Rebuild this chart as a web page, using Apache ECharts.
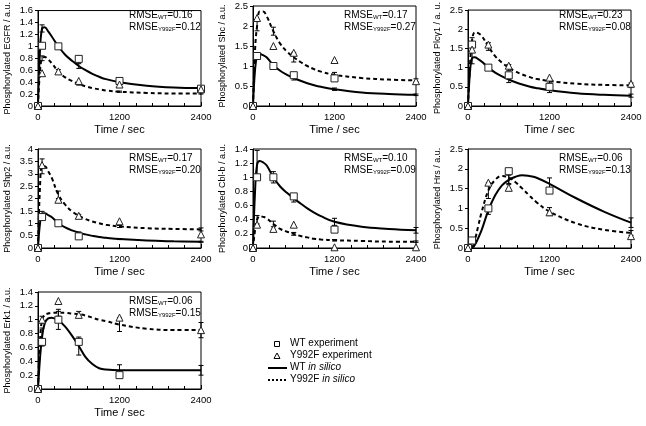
<!DOCTYPE html>
<html>
<head>
<meta charset="utf-8">
<script src="https://cdn.jsdelivr.net/npm/echarts@6/dist/echarts.min.js"></script>
<style>
  html, body { margin: 0; padding: 0; background: #fff; }
  #main { width: 646px; height: 426px; }
</style>
</head>
<body>
<div id="main"></div>
<script>
// 时间点
const simT = [0, 30, 60, 100, 150, 200, 300, 400, 500, 600, 700, 800, 900, 1000, 1200, 1600, 2000, 2400];
const expT = [0, 60, 300, 600, 1200, 2400];
const errT = [60, 300, 600, 1200, 2400];

const proteins = ['EGFR', 'Shc', 'Plcγ1', 'Shp2', 'Cbl-b', 'Hrs', 'Erk1'];
const yNames = ['Phosphorylated EGFR / a.u.', 'Phosphorylated Shc / a.u.', 'Phosphorylated Plcγ1 / a. u.',
  'Phosphorylated Shp2 / a.u.', 'Phosphorylated Cbl-b / a.u.', 'Phosphorylated Hrs / a.u.', 'Phosphorylated Erk1 / a.u.'];
const yMax = [1.6, 2.5, 2.5, 4, 1.4, 2.5, 1.4];
const yStep = [0.2, 0.5, 0.5, 0.5, 0.2, 0.5, 0.2];
const rmseWT = ['0.16', '0.17', '0.23', '0.17', '0.10', '0.06', '0.06'];
const rmseY = ['0.12', '0.27', '0.08', '0.20', '0.09', '0.13', '0.15'];
const legendNames = ['WT experiment', 'Y992F experiment', 'WT in silico', 'Y992F in silico'];

// 实验数据 (WT / Y992F)
const egfrWTExp = [0, 1.01, 1.0, 0.79, 0.42, 0.29];
const egfrYExp = [0, 0.55, 0.58, 0.42, 0.36, 0.28];
const shcWTExp = [0, 1.25, 1.0, 0.77, 0.69, null];
const shcYExp = [0, 2.2, 1.5, 1.33, 1.15, 0.62];
const plcWTExp = [0, 1.6, 1.0, 0.8, 0.5, null];
const plcYExp = [0, 1.47, 1.6, 1.05, 0.74, 0.58];
const shp2WTExp = [0, 1.25, 1.0, 0.47, null, null];
const shp2YExp = [0, 3.35, 1.95, 1.3, 1.08, 0.55];
const cblWTExp = [0, 1.0, 1.0, 0.73, 0.26, null];
const cblYExp = [0, 0.33, 0.27, 0.33, 0.01, 0.01];
const hrsWTExp = [0, 0.19, 1.0, 1.94, 1.45, null];
const hrsYExp = [0, null, 1.65, 1.52, 0.9, 0.3];
const erkWTExp = [0, 0.68, 1.0, 0.68, 0.2, null];
const erkYExp = [0, 1.0, 1.27, 1.07, 1.03, 0.85];

// 模拟曲线 (in silico)
const egfrWTSim = [0, 0.95, 1.30, 1.32, 1.25, 1.17, 1.00, 0.86, 0.76, 0.67, 0.60, 0.54, 0.49, 0.45, 0.40, 0.34, 0.31, 0.30];
const egfrYSim = [0, 0.60, 0.80, 0.82, 0.78, 0.72, 0.58, 0.48, 0.42, 0.37, 0.33, 0.30, 0.28, 0.26, 0.24, 0.22, 0.21, 0.21];
const shcWTSim = [0, 0.90, 1.25, 1.30, 1.27, 1.22, 1.02, 0.88, 0.78, 0.70, 0.63, 0.57, 0.52, 0.48, 0.42, 0.34, 0.30, 0.28];
const shcYSim = [0, 1.40, 2.00, 2.36, 2.36, 2.25, 1.87, 1.56, 1.36, 1.22, 1.10, 1.00, 0.92, 0.86, 0.78, 0.70, 0.66, 0.64];
const plcWTSim = [0, 0.90, 1.25, 1.27, 1.22, 1.16, 1.00, 0.87, 0.77, 0.69, 0.62, 0.56, 0.51, 0.47, 0.41, 0.33, 0.29, 0.27];
const plcYSim = [0, 1.10, 1.70, 1.92, 1.90, 1.83, 1.55, 1.30, 1.13, 1.00, 0.90, 0.82, 0.76, 0.71, 0.65, 0.58, 0.55, 0.54];
const shp2WTSim = [0, 1.00, 1.38, 1.40, 1.33, 1.25, 1.00, 0.83, 0.71, 0.62, 0.55, 0.49, 0.44, 0.41, 0.36, 0.30, 0.27, 0.25];
const shp2YSim = [0, 2.50, 3.30, 3.30, 3.10, 2.85, 2.15, 1.75, 1.48, 1.30, 1.17, 1.07, 1.00, 0.94, 0.87, 0.80, 0.77, 0.75];
const cblWTSim = [0, 0.80, 1.18, 1.23, 1.21, 1.17, 1.00, 0.87, 0.78, 0.70, 0.63, 0.56, 0.50, 0.45, 0.37, 0.30, 0.27, 0.25];
const cblYSim = [0, 0.25, 0.40, 0.45, 0.44, 0.42, 0.34, 0.27, 0.23, 0.20, 0.17, 0.15, 0.13, 0.12, 0.11, 0.10, 0.09, 0.09];
const hrsWTSim = [0, 0, 0.02, 0.08, 0.25, 0.45, 0.95, 1.33, 1.58, 1.72, 1.80, 1.84, 1.82, 1.78, 1.62, 1.25, 0.92, 0.64];
const hrsYSim = [0, 0, 0.05, 0.20, 0.55, 0.90, 1.45, 1.72, 1.82, 1.78, 1.66, 1.50, 1.33, 1.17, 0.92, 0.62, 0.46, 0.38];
const erkWTSim = [0, 0.45, 0.75, 0.95, 1.02, 1.03, 0.99, 0.90, 0.77, 0.62, 0.46, 0.36, 0.30, 0.28, 0.27, 0.27, 0.27, 0.27];
const erkYSim = [0, 0.70, 1.00, 1.07, 1.09, 1.10, 1.10, 1.10, 1.09, 1.08, 1.06, 1.03, 1.00, 0.98, 0.93, 0.87, 0.85, 0.85];

// 误差棒半宽
const egfrWTErr = [0.06, 0.02, 0.04, 0.03, 0.03];
const egfrYErr = [0.04, 0.03, 0.02, 0.01, 0.01];
const shcWTErr = [0.08, 0.03, 0.05, 0.03, 0.02];
const shcYErr = [0.12, 0.10, 0.12, 0.06, 0.04];
const plcWTErr = [0.15, 0.06, 0.08, 0.06, 0.04];
const plcYErr = [0.08, 0.10, 0.08, 0.05, 0.06];
const shp2WTErr = [0.10, 0.03, 0.03, 0.02, 0.02];
const shp2YErr = [0.30, 0.15, 0.06, 0.04, 0.06];
const cblWTErr = [0.20, 0.08, 0.05, 0.05, 0.04];
const cblYErr = [0.06, 0.04, 0.02, 0.01, 0.01];
const hrsWTErr = [0.02, 0.10, 0.12, 0.15, 0.12];
const hrsYErr = [0.02, 0.20, 0.15, 0.10, 0.06];
const erkWTErr = [0.13, 0.13, 0.13, 0.08, 0.07];
const erkYErr = [0.05, 0.05, 0.04, 0.10, 0.11];

const wtExp = [egfrWTExp, shcWTExp, plcWTExp, shp2WTExp, cblWTExp, hrsWTExp, erkWTExp];
const yExp = [egfrYExp, shcYExp, plcYExp, shp2YExp, cblYExp, hrsYExp, erkYExp];
const wtSim = [egfrWTSim, shcWTSim, plcWTSim, shp2WTSim, cblWTSim, hrsWTSim, erkWTSim];
const ySim = [egfrYSim, shcYSim, plcYSim, shp2YSim, cblYSim, hrsYSim, erkYSim];
const wtErr = [egfrWTErr, shcWTErr, plcWTErr, shp2WTErr, cblWTErr, hrsWTErr, erkWTErr];
const yErr = [egfrYErr, shcYErr, plcYErr, shp2YErr, cblYErr, hrsYErr, erkYErr];

const FONT = '"Liberation Sans", Arial, sans-serif';
const colLeft = [38, 253, 468];
const rowTop = [6, 149, 292];
const rowH = [100, 99, 97];
const gridW = 163;

const myChart = echarts.init(document.getElementById('main'));

function pts(ts, vals) {
  return ts.map((t, i) => [t, vals[i]]).filter(p => p[1] !== null);
}
function errData(sim, half) {
  return errT.map((t, k) => {
    const c = sim[simT.indexOf(t)];
    return [t, c - half[k], c + half[k]];
  });
}
function renderErr(params, api) {
  const x = api.value(0);
  const lo = api.coord([x, api.value(1)]);
  const hi = api.coord([x, api.value(2)]);
  const w = 2.5;
  const st = { stroke: '#000', lineWidth: 1 };
  return {
    type: 'group',
    children: [
      { type: 'line', shape: { x1: lo[0], y1: lo[1], x2: hi[0], y2: hi[1] }, style: st },
      { type: 'line', shape: { x1: lo[0] - w, y1: lo[1], x2: lo[0] + w, y2: lo[1] }, style: st },
      { type: 'line', shape: { x1: hi[0] - w, y1: hi[1], x2: hi[0] + w, y2: hi[1] }, style: st }
    ]
  };
}

const grid = [], xAxis = [], yAxis = [], series = [], graphic = [];

proteins.forEach((p, i) => {
  const r = Math.floor(i / 3), c = i % 3;
  grid.push({
    left: colLeft[c], top: rowTop[r], width: gridW, height: rowH[r],
    show: true, borderColor: '#000', borderWidth: 1, backgroundColor: '#fff'
  });
  xAxis.push({
    gridIndex: i, type: 'value', min: 0, max: 2400, interval: 1200,
    name: 'Time / sec', nameLocation: 'middle', nameGap: 18,
    nameTextStyle: { fontFamily: FONT, fontSize: 11, color: '#000' },
    axisLine: { lineStyle: { color: '#000', width: 1 } },
    axisTick: { inside: true, length: 4, lineStyle: { color: '#000' } },
    minorTick: { show: true, splitNumber: 5, length: 3, lineStyle: { color: '#000' } },
    axisLabel: { fontFamily: FONT, fontSize: 9.5, color: '#000', margin: 6, formatter: v => String(v) },
    splitLine: { show: false }
  });
  yAxis.push({
    gridIndex: i, type: 'value', min: 0, max: yMax[i], interval: yStep[i],
    name: yNames[i], nameLocation: 'middle', nameGap: 26, nameRotate: 90,
    nameTextStyle: { fontFamily: FONT, fontSize: 9, color: '#000' },
    axisLine: { show: true, lineStyle: { color: '#000', width: 1 } },
    axisTick: { show: true, length: 3, lineStyle: { color: '#000' } },
    axisLabel: { fontFamily: FONT, fontSize: 9.5, color: '#000', margin: 5, formatter: v => String(+v.toFixed(2)) },
    splitLine: { show: false }
  });
  series.push({
    name: legendNames[2], type: 'line', xAxisIndex: i, yAxisIndex: i,
    data: pts(simT, wtSim[i]), smooth: 0.4, symbol: 'none',
    lineStyle: { color: '#000', width: 2 }, itemStyle: { color: '#000' }, z: 2
  });
  series.push({
    name: legendNames[3], type: 'line', xAxisIndex: i, yAxisIndex: i,
    data: pts(simT, ySim[i]), smooth: 0.4, symbol: 'none',
    lineStyle: { color: '#000', width: 2, type: [4, 3] }, itemStyle: { color: '#000' }, z: 2
  });
  series.push({
    type: 'custom', xAxisIndex: i, yAxisIndex: i, renderItem: renderErr,
    encode: { x: 0, y: [1, 2] }, data: errData(wtSim[i], wtErr[i]), z: 3
  });
  series.push({
    type: 'custom', xAxisIndex: i, yAxisIndex: i, renderItem: renderErr,
    encode: { x: 0, y: [1, 2] }, data: errData(ySim[i], yErr[i]), z: 3
  });
  series.push({
    name: legendNames[0], type: 'scatter', xAxisIndex: i, yAxisIndex: i,
    data: pts(expT, wtExp[i]), symbol: 'rect', symbolSize: 7,
    itemStyle: { color: '#fff', borderColor: '#222', borderWidth: 1, opacity: 1 }, z: 4
  });
  series.push({
    name: legendNames[1], type: 'scatter', xAxisIndex: i, yAxisIndex: i,
    data: pts(expT, yExp[i]), symbol: 'triangle', symbolSize: 7,
    itemStyle: { color: '#fff', borderColor: '#222', borderWidth: 1, opacity: 1 }, z: 4
  });
  graphic.push({
    type: 'text', left: colLeft[c] + 91, top: rowTop[r] + 4, z: 10,
    style: {
      text: '{a|RMSE}{s|WT}{a|=' + rmseWT[i] + '}\n{a|RMSE}{s|Y992F}{a|=' + rmseY[i] + '}',
      rich: {
        a: { fontFamily: FONT, fontSize: 10, color: '#000', lineHeight: 12, verticalAlign: 'bottom' },
        s: { fontFamily: FONT, fontSize: 6, color: '#000', lineHeight: 12, verticalAlign: 'bottom', padding: [3, 0, 0, 0] }
      }
    }
  });
});

// 图例 (手绘)
const lgX = 268, lgTextX = 290, lgY = [344, 356, 368, 380];
const lgStroke = { stroke: '#000', lineWidth: 1 };
graphic.push(
  { type: 'rect', shape: { x: 274.5, y: lgY[0] - 2.5, width: 5, height: 5 }, style: { fill: '#fff', stroke: '#000', lineWidth: 1 } },
  { type: 'polygon', shape: { points: [[277, lgY[1] - 3], [280, lgY[1] + 2.5], [274, lgY[1] + 2.5]] }, style: { fill: '#fff', stroke: '#000', lineWidth: 1 } },
  { type: 'line', shape: { x1: lgX, y1: lgY[2], x2: lgX + 19, y2: lgY[2] }, style: { stroke: '#000', lineWidth: 2 } },
  { type: 'line', shape: { x1: lgX, y1: lgY[3], x2: lgX + 19, y2: lgY[3] }, style: { stroke: '#000', lineWidth: 2, lineDash: [2, 2] } }
);
legendNames.forEach((n, k) => {
  graphic.push({
    type: 'text', left: lgTextX, top: lgY[k] - 6,
    style: {
      text: n.replace(' in silico', ' {i|in silico}'),
      rich: { i: { fontFamily: FONT, fontSize: 10, fontStyle: 'italic', fill: '#000' } },
      font: '10px ' + FONT, fill: '#000', fontFamily: FONT, fontSize: 10
    }
  });
});

option = {
  backgroundColor: '#fff',
  animation: false,
  grid: grid,
  xAxis: xAxis,
  yAxis: yAxis,
  graphic: graphic,
  series: series
};

myChart.setOption(option);
</script>
</body>
</html>
